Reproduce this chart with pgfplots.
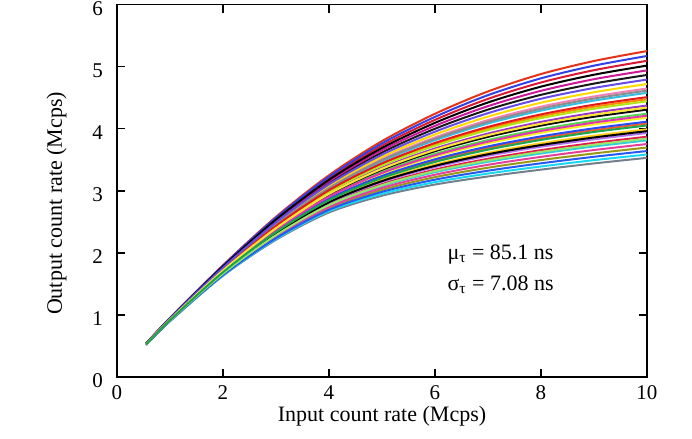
\documentclass[border=0pt]{standalone}
\usepackage{fontspec}
\setmainfont{Liberation Serif}
\usepackage{pgfplots}
\usepackage{pgfplotstable}
\pgfplotsset{compat=1.18}

% Output count rate curves (columns c1..c34, ordered from highest to lowest curve)
\pgfplotstableread{
x c1 c2 c3 c4 c5 c6 c7 c8 c9 c10 c11 c12 c13 c14 c15 c16 c17 c18 c19 c20 c21 c22 c23 c24 c25 c26 c27 c28 c29 c30 c31 c32 c33 c34
0.55 0.540 0.538 0.538 0.538 0.536 0.536 0.535 0.535 0.533 0.533 0.533 0.533 0.531 0.531 0.531 0.529 0.529 0.529 0.529 0.527 0.527 0.527 0.526 0.526 0.526 0.526 0.524 0.524 0.524 0.522 0.522 0.520 0.520 0.520
1 0.950 0.947 0.946 0.943 0.942 0.940 0.938 0.936 0.933 0.933 0.932 0.931 0.929 0.928 0.926 0.925 0.924 0.922 0.921 0.921 0.918 0.918 0.917 0.915 0.914 0.913 0.911 0.910 0.908 0.907 0.906 0.903 0.901 0.900
2 1.800 1.794 1.786 1.779 1.773 1.767 1.760 1.752 1.746 1.743 1.740 1.733 1.729 1.727 1.720 1.716 1.714 1.707 1.703 1.701 1.694 1.691 1.688 1.682 1.678 1.675 1.669 1.665 1.662 1.656 1.649 1.643 1.636 1.630
3 2.580 2.565 2.550 2.535 2.520 2.506 2.491 2.477 2.462 2.454 2.447 2.432 2.426 2.419 2.404 2.397 2.390 2.375 2.369 2.362 2.347 2.340 2.333 2.320 2.313 2.306 2.291 2.285 2.278 2.264 2.251 2.237 2.224 2.210
4 3.250 3.226 3.202 3.176 3.152 3.128 3.103 3.079 3.056 3.044 3.032 3.009 2.997 2.985 2.962 2.950 2.939 2.916 2.904 2.894 2.871 2.859 2.848 2.825 2.814 2.804 2.781 2.770 2.759 2.736 2.715 2.693 2.672 2.650
5 3.800 3.763 3.726 3.689 3.653 3.616 3.581 3.545 3.511 3.493 3.475 3.441 3.423 3.407 3.372 3.354 3.338 3.305 3.287 3.271 3.238 3.221 3.205 3.172 3.156 3.141 3.108 3.091 3.076 3.045 3.013 2.982 2.950 2.920
6 4.240 4.190 4.142 4.094 4.046 3.999 3.952 3.906 3.859 3.837 3.814 3.770 3.747 3.724 3.680 3.658 3.636 3.593 3.571 3.550 3.507 3.486 3.464 3.423 3.401 3.381 3.340 3.319 3.299 3.258 3.219 3.179 3.139 3.100
7 4.600 4.540 4.480 4.422 4.363 4.307 4.250 4.194 4.138 4.110 4.083 4.029 4.002 3.975 3.921 3.895 3.868 3.817 3.791 3.764 3.714 3.688 3.662 3.612 3.588 3.563 3.515 3.490 3.466 3.418 3.371 3.323 3.277 3.230
8 4.880 4.811 4.744 4.677 4.610 4.545 4.482 4.418 4.354 4.322 4.291 4.230 4.200 4.170 4.109 4.079 4.050 3.991 3.963 3.934 3.876 3.848 3.819 3.764 3.736 3.709 3.654 3.627 3.600 3.546 3.494 3.442 3.391 3.340
9 5.090 5.015 4.942 4.869 4.797 4.726 4.656 4.587 4.519 4.486 4.452 4.386 4.353 4.321 4.256 4.224 4.192 4.129 4.098 4.068 4.006 3.976 3.947 3.887 3.858 3.828 3.771 3.742 3.713 3.656 3.601 3.547 3.493 3.440
10 5.250 5.171 5.093 5.016 4.939 4.865 4.791 4.719 4.647 4.613 4.577 4.508 4.474 4.440 4.372 4.340 4.306 4.241 4.209 4.177 4.113 4.083 4.051 3.989 3.960 3.930 3.870 3.840 3.811 3.753 3.696 3.640 3.584 3.530
}\curves

\definecolor{col1}{rgb}{0.90,0.20,0.10}
\definecolor{col2}{rgb}{0.20,0.25,0.90}
\definecolor{col3}{rgb}{0.85,0.10,0.20}
\definecolor{col4}{rgb}{0,0,0}
\definecolor{col5}{rgb}{0.80,0.10,0.60}
\definecolor{col6}{rgb}{0.10,0.10,0.10}
\definecolor{col7}{rgb}{0.40,0.30,0.90}
\definecolor{col8}{rgb}{1.00,0.85,0.00}
\definecolor{col9}{rgb}{0.95,0.50,0.70}
\definecolor{col10}{rgb}{0.55,0.55,0.55}
\definecolor{col11}{rgb}{0.20,0.75,0.90}
\definecolor{col12}{rgb}{0.90,0.10,0.10}
\definecolor{col13}{rgb}{1.00,0.55,0.00}
\definecolor{col14}{rgb}{0.70,0.90,0.10}
\definecolor{col15}{rgb}{0.60,0.20,0.80}
\definecolor{col16}{rgb}{1.00,0.90,0.20}
\definecolor{col17}{rgb}{0.05,0.05,0.05}
\definecolor{col18}{rgb}{0.30,0.85,0.30}
\definecolor{col19}{rgb}{0.90,0.20,0.70}
\definecolor{col20}{rgb}{0.95,0.95,0.10}
\definecolor{col21}{rgb}{0.15,0.30,0.95}
\definecolor{col22}{rgb}{0.95,0.35,0.15}
\definecolor{col23}{rgb}{0.10,0.65,0.30}
\definecolor{col24}{rgb}{1.00,0.80,0.10}
\definecolor{col25}{rgb}{0,0,0}
\definecolor{col26}{rgb}{0.70,0.45,0.95}
\definecolor{col27}{rgb}{0.90,0.10,0.30}
\definecolor{col28}{rgb}{0.60,0.90,0.40}
\definecolor{col29}{rgb}{0.20,0.80,0.85}
\definecolor{col30}{rgb}{0.90,0.25,0.60}
\definecolor{col31}{rgb}{0.60,0.60,0.10}
\definecolor{col32}{rgb}{0.15,0.35,0.95}
\definecolor{col33}{rgb}{0.10,0.85,0.95}
\definecolor{col34}{rgb}{0.45,0.50,0.55}

\begin{document}
\begin{tikzpicture}
\begin{axis}[
  scale only axis,
  width=265pt, height=186.25pt,
  xmin=0, xmax=10, ymin=0, ymax=6,
  xtick={0,2,4,6,8,10}, ytick={0,1,2,3,4,5,6},
  minor tick num=0,
  tick align=inside,
  major tick length=4pt,
  every tick/.append style={black, line width=0.8pt},
  axis line style={black, line width=0.9pt},
  /pgf/number format/assume math mode=true,
  tick label style={font=\fontsize{10.5}{12}\selectfont},
  yticklabel style={xshift=-3.5pt, yshift=-2pt},
  xticklabel style={yshift=-0.7pt},
  xlabel={Input count rate (Mcps)},
  ylabel={Output count rate (Mcps)},
  label style={font=\fontsize{11}{13}\selectfont},
  xlabel style={at={(axis description cs:0.5,-0.06)}, anchor=north},
  ylabel style={at={(axis description cs:-0.082,0.466)}, anchor=south},
  every axis plot/.append style={line width=1.0pt, smooth, no markers},
]
\pgfplotsinvokeforeach{20,3,31,11,27,6,15,34,9,24,1,18,13,29,5,22,33,8,26,14,2,30,17,10,25,4,21,32,12,28,7,19,16,23}{
  \addplot[color=col#1] table[x=x, y=c#1] {\curves};
}
\node[anchor=base west, inner sep=0pt, font=\fontsize{11}{13}\selectfont] at (axis cs:6.23,1.89) {μ\textsubscript{τ} = 85.1 ns};
\node[anchor=base west, inner sep=0pt, font=\fontsize{11}{13}\selectfont] at (axis cs:6.23,1.40) {σ\textsubscript{τ} = 7.08 ns};
\coordinate (sw) at (rel axis cs:0,0);
\coordinate (ne) at (rel axis cs:1,1);
\end{axis}
\pgfresetboundingbox
\path ([shift={(-58.5pt,-31pt)}]sw) rectangle ([shift={(22.5pt,2.25pt)}]ne);
\end{tikzpicture}
\end{document}
